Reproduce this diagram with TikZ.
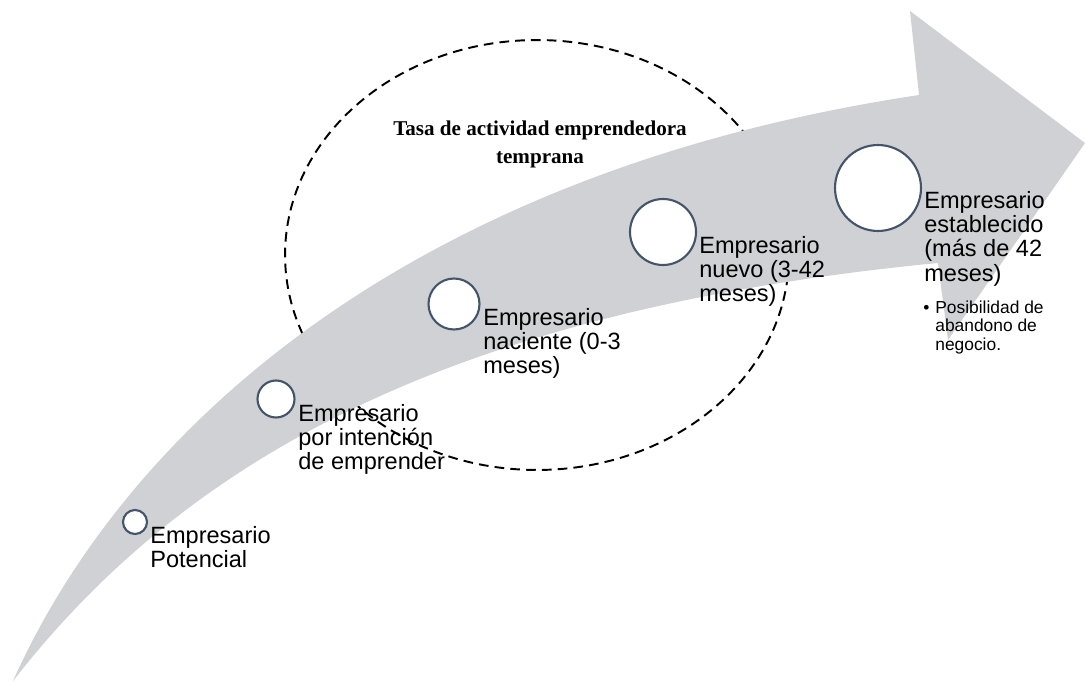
\documentclass[tikz,border=0pt]{standalone}
\usepackage{fontspec}
\setmainfont{Liberation Sans}
\newfontfamily\titlefont{Liberation Serif}
\definecolor{arrowgray}{HTML}{D0D1D5}
\definecolor{ringcol}{HTML}{44546A}
\tikzset{
  stage/.style={circle, draw=ringcol, line width=1.2pt, fill=white, inner sep=0pt},
  lbl/.style={anchor=north west, inner sep=0pt, align=left, font=\fontsize{13.4pt}{13.8pt}\selectfont},
  sublbl/.style={anchor=north west, inner sep=0pt, align=left, font=\fontsize{9.9pt}{10.4pt}\selectfont},
  bulletmark/.style={anchor=base west, inner sep=0pt, font=\fontsize{9.9pt}{10.4pt}\selectfont},
  ttl/.style={anchor=north, inner sep=0pt, align=center, font=\titlefont\bfseries\fontsize{12pt}{15.9pt}\selectfont},
  zone/.style={draw=black, line width=1.1pt, dash pattern=on 5.5pt off 3.5pt}
}
\begin{document}
\begin{tikzpicture}[x=0.02cm,y=-0.02cm]
\useasboundingbox (0,0) rectangle (1085,682);
% dashed ellipse (behind the arrow)
\draw[zone] (537,255) ellipse [x radius=5.04cm, y radius=4.3cm];
% big curved arrow
\fill[arrowgray] (13,681) .. controls (130,420) and (420,170) .. (919,95)
  -- (910,11) -- (1085,143) -- (948,340) -- (938,263)
  .. controls (450,310) and (185,460) .. (13,681) -- cycle;
% stage circles
\node[stage, minimum size=0.48cm] (c1) at (135,522) {};
\node[stage, minimum size=0.74cm] (c2) at (276,399) {};
\node[stage, minimum size=1.02cm] (c3) at (454,304) {};
\node[stage, minimum size=1.32cm] (c4) at (663,232) {};
\node[stage, minimum size=1.72cm] (c5) at (878,188) {};
% labels
\node[lbl] (t1) at (150,526) {Empresario\\Potencial};
\node[lbl] (t2) at (298,404) {Empresario\\por intención\\de emprender};
\node[lbl] (t3) at (483,308) {Empresario\\naciente (0-3\\meses)};
\node[lbl] (t4) at (699,236) {Empresario\\nuevo (3-42\\meses)};
\node[lbl] (t5) at (924,191) {Empresario\\establecido\\(más de 42\\meses)};
\node[bulletmark] (b5) at (923,313) {•};
\node[sublbl] (s5) at (935,300.5) {Posibilidad de\\abandono de\\negocio.};
\node[ttl] (title) at (540,121) {Tasa de actividad emprendedora\\temprana};
\end{tikzpicture}
\end{document}
